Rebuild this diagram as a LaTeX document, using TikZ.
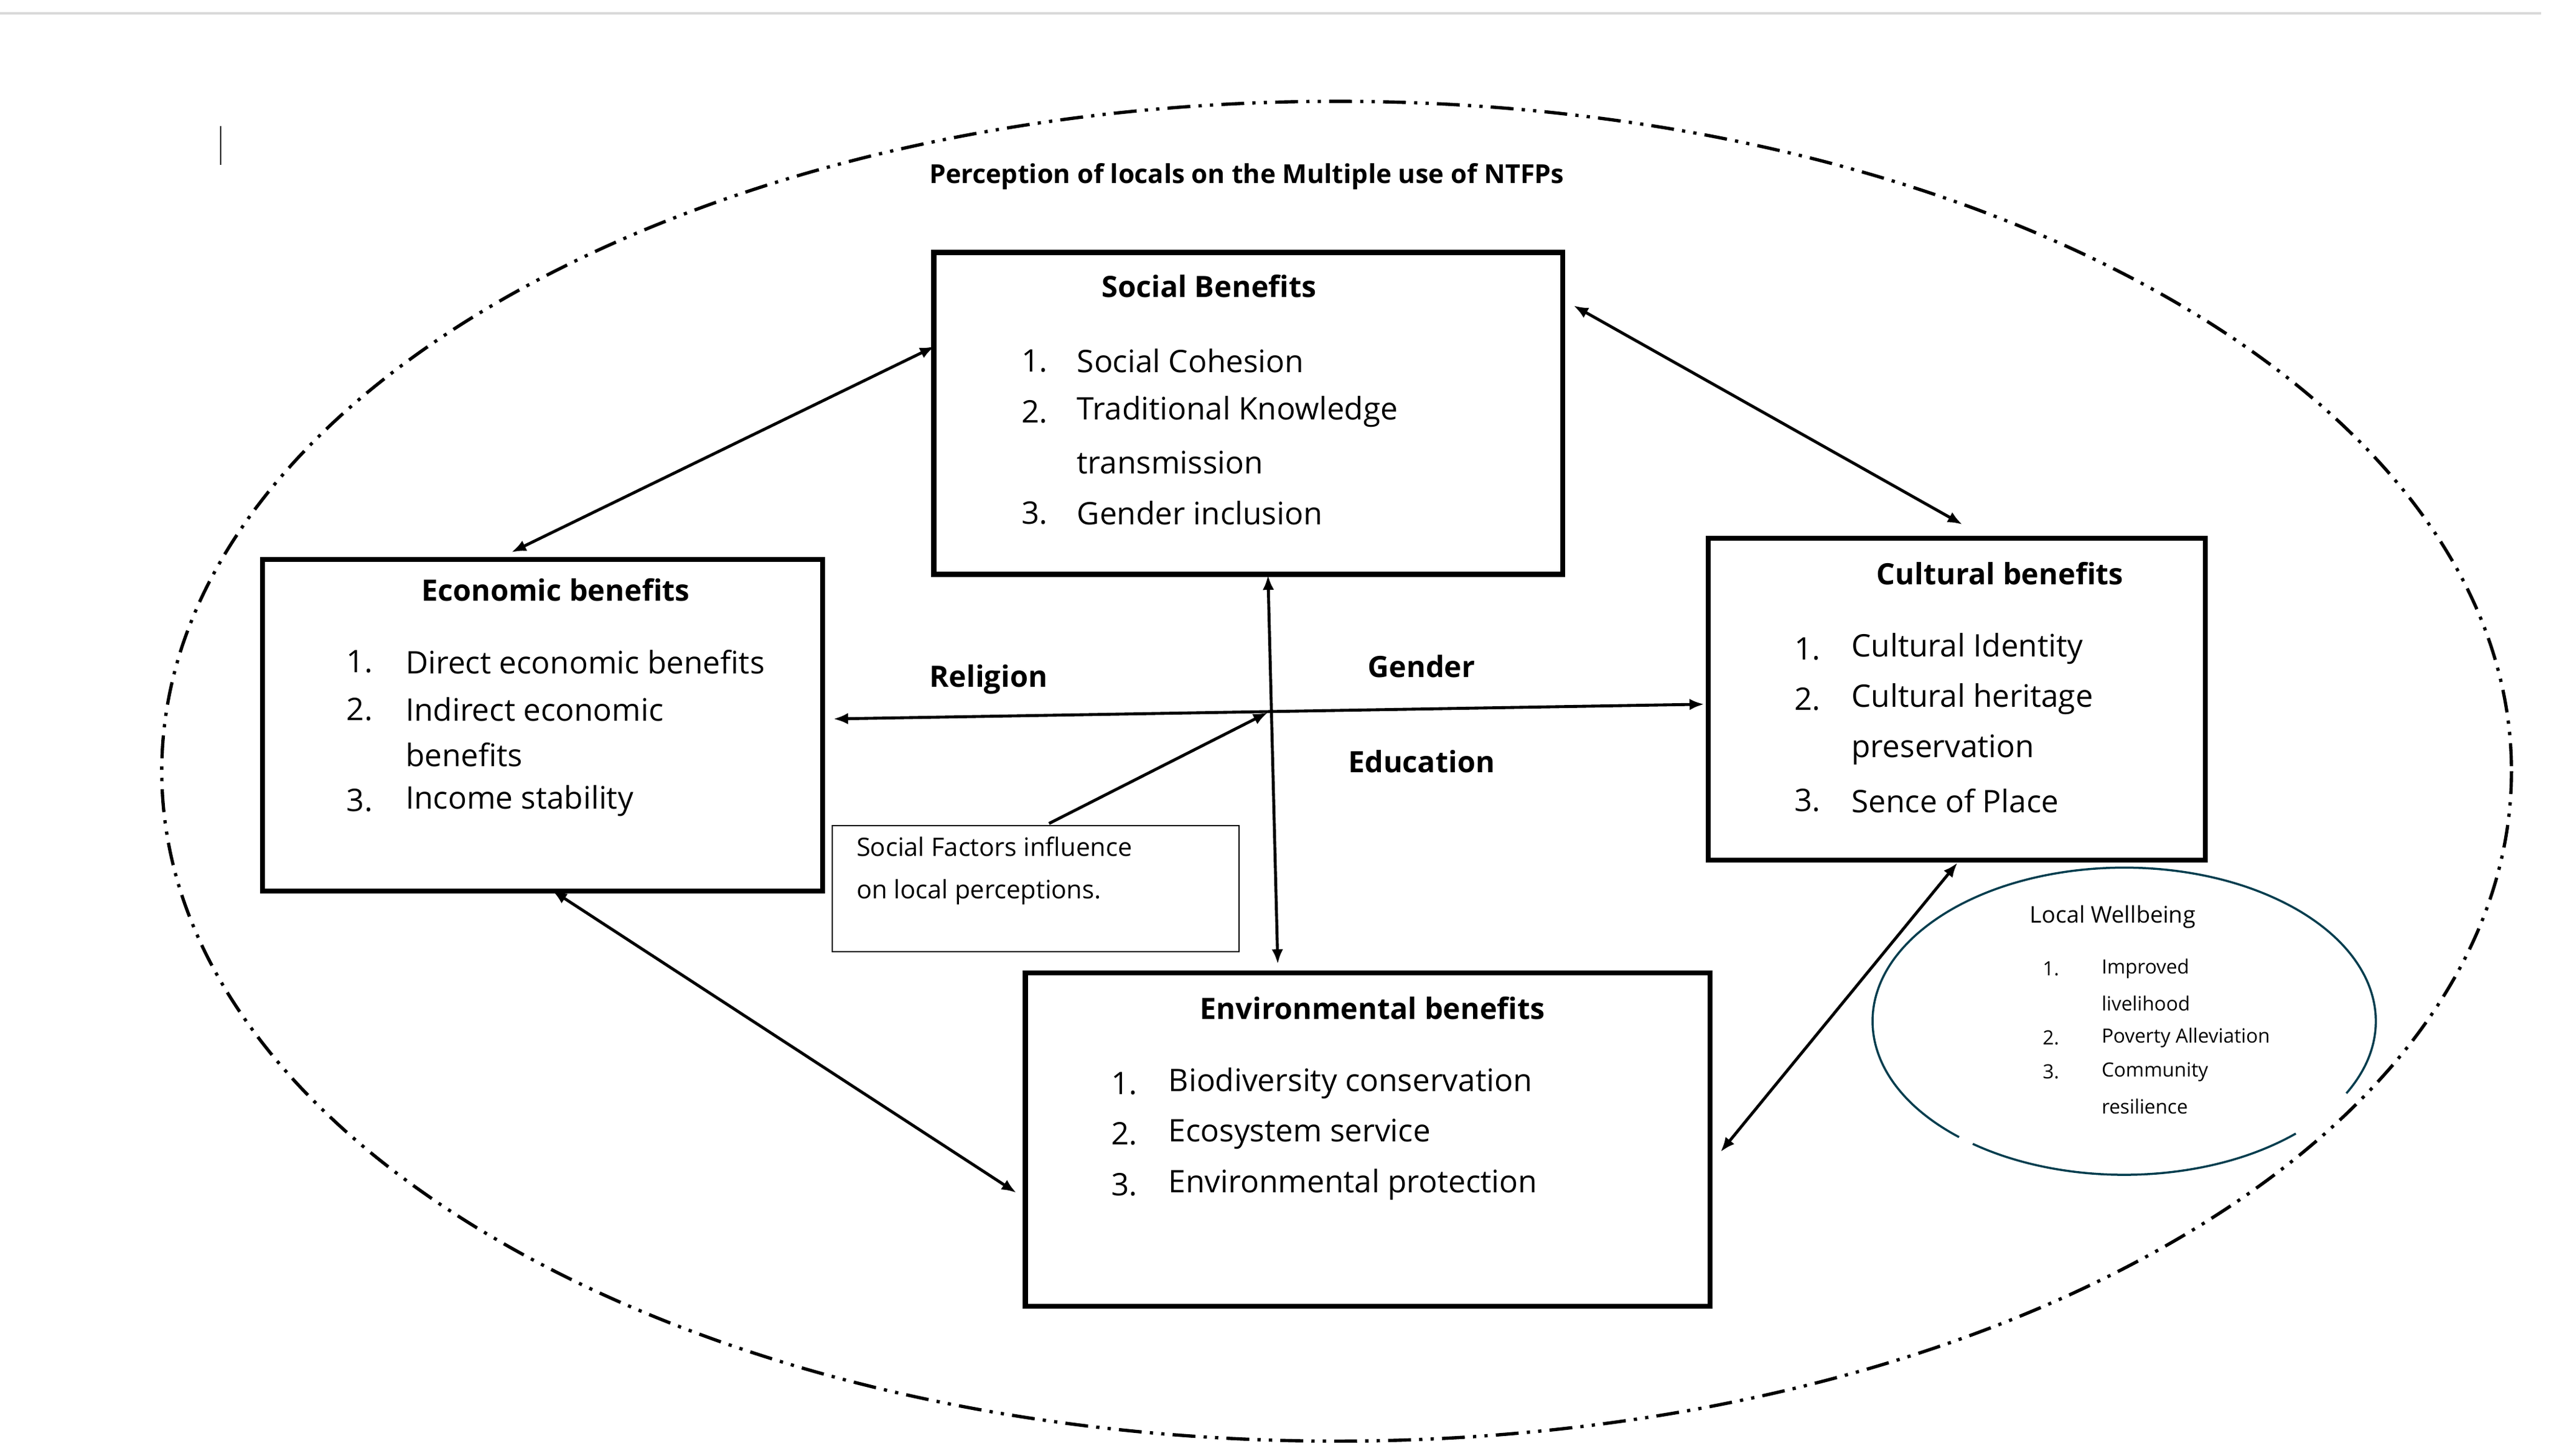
\documentclass[tikz,border=0pt]{standalone}
\usepackage{fontspec}
\setmainfont{Open Sans}
\usetikzlibrary{arrows.meta}
\begin{document}
\begin{tikzpicture}[x=1pt,y=-1pt,
  box/.style={draw,line width=3pt,anchor=north west,inner sep=0pt},
  ttl/.style={font=\fontsize{18}{20}\selectfont\bfseries,anchor=center},
  itm/.style={font=\fontsize{19}{22}\selectfont,anchor=west,inner sep=0pt},
  sml/.style={font=\fontsize{12}{14}\selectfont,anchor=west,inner sep=0pt},
  lbl/.style={font=\fontsize{18}{20}\selectfont\bfseries},
  dbl/.style={{Latex[length=9pt,width=7pt]}-{Latex[length=9pt,width=7pt]},line width=1.8pt},
  sgl/.style={-{Latex[length=9pt,width=7pt]},line width=1.8pt}]
\useasboundingbox (0,0) rectangle (1560,891);
\fill[white] (0,0) rectangle (1560,891);
\draw[gray!30,line width=1.5pt] (0,8) -- (1555,8);
\draw[line width=1pt] (135,77) -- (135,101);
% big ellipse
\draw[line width=2pt,dash pattern=on 14pt off 5pt on 2pt off 5pt on 2pt off 5pt] (818,472) ellipse [x radius=719,y radius=410];
\node[font=\fontsize{16}{18}\selectfont\bfseries,fill=white,inner sep=3pt] (title) at (763,108) {Perception of locals on the Multiple use of NTFPs};
% boxes
\node[box,minimum width=385,minimum height=197] (soc) at (570,153) {};
\node[box,minimum width=343,minimum height=203] (eco) at (159,341) {};
\node[box,minimum width=304,minimum height=197] (cul) at (1044,328) {};
\node[box,minimum width=419,minimum height=204] (env) at (626,594) {};
\node[draw,line width=0.8pt,anchor=north west,minimum width=249,minimum height=77,inner sep=0pt] (sf) at (509,505) {};
% social
\node[ttl] (socT) at (740,175) {Social Benefits};
\node[itm] (s1n) at (625,221) {1.}; \node[itm] (s1) at (659,221) {Social Cohesion};
\node[itm] (s2n) at (625,252) {2.}; \node[itm] (s2) at (659,252) {Traditional Knowledge};
\node[itm] (s2b) at (659,283) {transmission};
\node[itm] (s3n) at (625,314) {3.}; \node[itm] (s3) at (659,314) {Gender inclusion};
% economic
\node[ttl] (ecoT) at (340,361) {Economic benefits};
\node[itm] (e1n) at (212,405) {1.}; \node[itm] (e1) at (248,405) {Direct economic benefits};
\node[itm] (e2n) at (212,434) {2.}; \node[itm] (e2) at (248,434) {Indirect economic};
\node[itm] (e2b) at (248,462) {benefits};
\node[itm] (e3n) at (212,490) {3.}; \node[itm] (e3) at (248,490) {Income stability};
% cultural
\node[ttl] (culT) at (1224,351) {Cultural benefits};
\node[itm] (c1n) at (1098,397) {1.}; \node[itm] (c1) at (1133,397) {Cultural Identity};
\node[itm] (c2n) at (1098,428) {2.}; \node[itm] (c2) at (1133,428) {Cultural heritage};
\node[itm] (c2b) at (1133,459) {preservation};
\node[itm] (c3n) at (1098,490) {3.}; \node[itm] (c3) at (1133,490) {Sence of Place};
% environmental
\node[ttl] (envT) at (840,617) {Environmental benefits};
\node[itm] (v1n) at (680,663) {1.}; \node[itm] (v1) at (715,663) {Biodiversity conservation};
\node[itm] (v2n) at (680,694) {2.}; \node[itm] (v2) at (715,694) {Ecosystem service};
\node[itm] (v3n) at (680,725) {3.}; \node[itm] (v3) at (715,725) {Environmental protection};
% social factors
\node[font=\fontsize{15.5}{26}\selectfont,anchor=north west,align=left,inner sep=0pt] (sfT) at (524,512) {Social Factors influence\\on local perceptions.};
% labels
\node[lbl] (rel) at (605,416) {Religion};
\node[lbl] (gen) at (870,408) {Gender};
\node[lbl] (edu) at (870,466) {Education};
% wellbeing ellipse
\draw[color=black!60!blue!40!cyan!40!black,line width=1.3pt] ({1300+154*cos(47)},{625+94*sin(47)}) arc[start angle=47,end angle=127,x radius=154,y radius=94];
\draw[color=black!60!blue!40!cyan!40!black,line width=1.3pt] ({1300+154*cos(131)},{625+94*sin(131)}) arc[start angle=131,end angle=388,x radius=154,y radius=94];
\node[font=\fontsize{14}{16}\selectfont,inner sep=0pt] (wbT) at (1293,561) {Local Wellbeing};
\node[sml] (w1n) at (1250,593) {1.}; \node[sml] (w1) at (1286,593) {Improved};
\node[sml] (w1b) at (1286,614) {livelihood};
\node[sml] (w2n) at (1250,635) {2.}; \node[sml] (w2) at (1286,635) {Poverty Alleviation};
\node[sml] (w3n) at (1250,656) {3.}; \node[sml] (w3) at (1286,656) {Community};
\node[sml] (w3b) at (1286,677) {resilience};
% connector endpoints
\coordinate (a1) at (313,338); \coordinate (a2) at (572,212);
\coordinate (b1) at (963,187); \coordinate (b2) at (1201,321);
\coordinate (c1p) at (338,545); \coordinate (c2p) at (622,730);
\coordinate (d1) at (1198,528); \coordinate (d2) at (1053,705);
\coordinate (h1) at (510,440); \coordinate (h2) at (1043,431);
\coordinate (u1) at (776,352); \coordinate (u2) at (782,590);
\coordinate (sfs) at (642,504); \coordinate (sfe) at (776,436);
\draw[dbl] (a1) -- (a2);
\draw[dbl] (b1) -- (b2);
\draw[dbl] (c1p) -- (c2p);
\draw[dbl] (d1) -- (d2);
\draw[dbl] (h1) -- (h2);
\draw[dbl] (u1) -- (u2);
\draw[sgl] (sfs) -- (sfe);
\end{tikzpicture}
\end{document}
